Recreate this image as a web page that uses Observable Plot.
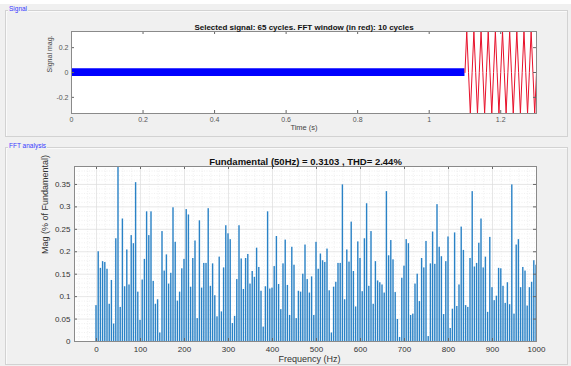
<!DOCTYPE html>
<html><head><meta charset="utf-8">
<script src="https://cdn.jsdelivr.net/npm/d3@7"></script>
<script src="https://cdn.jsdelivr.net/npm/@observablehq/plot@0.6"></script>
<style>
body{margin:0;background:#f0f0f0;font-family:Arial,"Liberation Sans",sans-serif;}
#root{position:relative;width:571px;height:366px;overflow:hidden;background:#f0f0f0;}
#strip{position:absolute;left:0;top:0;width:571px;height:4px;background:#fff;}
.panel{position:absolute;border:1px solid #d2d2d2;box-shadow:inset 1px 1px 0 #fafafa;}
.plabel{position:absolute;font-size:6.5px;color:#3a3aff;background:#f0f0f0;padding:0 1px;line-height:8px;}
.chart{position:absolute;left:0;}
</style></head>
<body>
<div id="root">
  <div id="strip"></div>
  <div class="panel" style="left:5px;top:10px;width:561px;height:125px;"></div>
  <div class="plabel" style="left:8px;top:5px;">Signal</div>
  <div class="panel" style="left:5px;top:147px;width:561px;height:216px;"></div>
  <div class="plabel" style="left:8px;top:142px;">FFT analysis</div>
  <div class="chart" id="c1" style="top:0px;"></div>
  <div class="chart" id="c2" style="top:146px;"></div>
</div>
<script>
// ---------- Signal panel data ----------
const timeTicks = [0, 0.2, 0.4, 0.6, 0.8, 1, 1.2];
const sigTicks = [-0.2, 0, 0.2];
// envelope of the (blue) noise-like signal before the FFT window
const bandTime = [0, 1.1];
const bandLow = [-0.032, -0.032];
const bandHigh = [0.03, 0.03];
// FFT window (red): 10 cycles of 50 Hz, sampled at quarter periods
const redTime = [1.1,1.105,1.11,1.115,1.12,1.125,1.13,1.135,1.14,1.145,1.15,1.155,1.16,1.165,1.17,1.175,1.18,1.185,1.19,1.195,1.2,1.205,1.21,1.215,1.22,1.225,1.23,1.235,1.24,1.245,1.25,1.255,1.26,1.265,1.27,1.275,1.28,1.285,1.29,1.295,1.3];
const redValue = [0,0.33,0,-0.33,0,0.33,0,-0.33,0,0.33,0,-0.33,0,0.33,0,-0.33,0,0.33,0,-0.33,0,0.33,0,-0.33,0,0.33,0,-0.33,0,0.33,0,-0.33,0,0.33,0,-0.33,0,0.33,0,-0.33,0];

// ---------- FFT panel data ----------
const freqStep = 5; // Hz between bars, starting at 0 Hz
const mags = [
0.080,0.200,0.163,0.178,0.176,0.161,0.083,0.136,0.039,0.229,
100,0.076,0.273,0.122,0.204,0.126,0.236,0.218,0.354,0.110,
0.047,0.137,0.183,0.289,0.236,0.289,0.134,0.083,0.093,0.019,
0.245,0.157,0.193,0.128,0.152,0.298,0.221,0.090,0.110,0.162,
0.183,0.294,0.282,0.121,0.185,0.224,0.051,0.269,0.119,0.174,
0.174,0.296,0.123,0.173,0.102,0.055,0.188,0.066,0.164,0.258,
0.240,0.227,0.040,0.056,0.138,0.258,0.184,0.116,0.185,0.194,
0.128,0.156,0.143,0.208,0.165,0.112,0.032,0.122,0.289,0.117,
0.119,0.167,0.234,0.127,0.071,0.173,0.226,0.125,0.058,0.210,
0.170,0.051,0.112,0.110,0.150,0.215,0.138,0.108,0.144,0.058,
0.221,0.161,0.195,0.180,0.176,0.206,0.113,0.019,0.121,0.132,
0.174,0.174,0.349,0.093,0.204,0.177,0.266,0.156,0.077,0.222,
0.185,0.111,0.229,0.307,0.123,0.245,0.083,0.178,0.135,0.131,
0.126,0.108,0.334,0.191,0.225,0.182,0.109,0.049,0.009,0.141,
0.168,0.227,0.218,0.058,0.061,0.128,0.150,0.089,0.185,0.164,
0.223,0.011,0.173,0.244,0.172,0.305,0.210,0.189,0.060,0.178,
0.233,0.029,0.072,0.242,0.078,0.126,0.255,0.203,0.080,0.076,
0.185,0.334,0.166,0.174,0.219,0.273,0.164,0.188,0.065,0.232,
0.120,0.091,0.101,0.163,0.162,0.123,0.085,0.131,0.082,0.349,
0.061,0.215,0.227,0.120,0.165,0.157,0.079,0.120,0.132,0.180,
0.170];
const freqTicks = [0,100,200,300,400,500,600,700,800,900,1000];
const magTicks = [0,0.05,0.1,0.15,0.2,0.25,0.3,0.35];
const freqMinor = [-40,-20,20,40,60,80,120,140,160,180,220,240,260,280,320,340,360,380,420,440,460,480,520,540,560,580,620,640,660,680,720,740,760,780,820,840,860,880,920,940,960,980];
const magMinor = [0.01,0.02,0.03,0.04,0.06,0.07,0.08,0.09,0.11,0.12,0.13,0.14,0.16,0.17,0.18,0.19,0.21,0.22,0.23,0.24,0.26,0.27,0.28,0.29,0.31,0.32,0.33,0.34,0.36,0.37,0.38];

const band = bandTime.map((t, i) => ({t, lo: bandLow[i], hi: bandHigh[i]}));
const red = redTime.map((t, i) => ({t, v: redValue[i]}));
const fft = mags.map((v, i) => ({f: i * freqStep, v}));

const font = "Arial, 'Liberation Sans', sans-serif";
const fmt = d => String(d);

// ---------- Signal plot ----------
{
  const W = 571, H = 140, mL = 71, mR = 35, mT = 31, mB = 27;
  const iH = H - mT - mB, iW = W - mL - mR;
  const p = Plot.plot({
    width: W, height: H,
    marginLeft: mL, marginRight: mR, marginTop: mT, marginBottom: mB,
    style: {background: "transparent", fontFamily: font, fontSize: "7px", color: "#555"},
    x: {domain: [0, 1.3], label: null},
    y: {domain: [-0.33, 0.33], label: null},
    marks: [
      Plot.frame({fill: "white", stroke: null}),
      Plot.areaY(band, {x: "t", y1: "lo", y2: "hi", fill: "#0000ff"}),
      Plot.line(red, {x: "t", y: "v", stroke: "#e8102a", strokeWidth: 1}),
      Plot.tickX(timeTicks, {x: d => d, insetTop: iH - 3, stroke: "#666"}),
      Plot.tickX(timeTicks, {x: d => d, insetBottom: iH - 3, stroke: "#666"}),
      Plot.tickY(sigTicks, {y: d => d, insetRight: iW - 3, stroke: "#666"}),
      Plot.tickY(sigTicks, {y: d => d, insetLeft: iW - 3, stroke: "#666"}),
      Plot.frame({stroke: "#8a8a8a"}),
      Plot.axisX({ticks: timeTicks, tickFormat: fmt, tickSize: 0, tickPadding: 4, fill: "#555"}),
      Plot.axisY({ticks: sigTicks, tickFormat: fmt, tickSize: 0, tickPadding: 3, fill: "#555"}),
      Plot.text(["Selected signal: 65 cycles. FFT window (in red): 10 cycles"], {text: d => d, frameAnchor: "top", dy: -7, fontWeight: "bold", fontSize: 8, fill: "#111"}),
      Plot.text(["Time (s)"], {text: d => d, frameAnchor: "bottom", dy: 16, fontSize: 7.5, fill: "#444"}),
      Plot.text(["Signal mag."], {text: d => d, frameAnchor: "left", dx: -22, rotate: -90, fontSize: 7, fill: "#444"})
    ]
  });
  document.getElementById("c1").appendChild(p);
}

// ---------- FFT plot ----------
{
  const W = 571, H = 220, mL = 74, mR = 35, mT = 20, mB = 25;
  const iH = H - mT - mB, iW = W - mL - mR;
  const p = Plot.plot({
    width: W, height: H,
    marginLeft: mL, marginRight: mR, marginTop: mT, marginBottom: mB,
    style: {background: "transparent", fontFamily: font, fontSize: "8px", color: "#333"},
    x: {domain: [-50, 1000], label: null},
    y: {domain: [0, 0.39], label: null},
    marks: [
      Plot.frame({fill: "white", stroke: null}),
      Plot.ruleX(freqMinor, {x: d => d, stroke: "#e6e6e6", strokeWidth: 0.6, strokeDasharray: "1,1.5"}),
      Plot.ruleY(magMinor, {y: d => d, stroke: "#e6e6e6", strokeWidth: 0.6, strokeDasharray: "1,1.5"}),
      Plot.ruleX(freqTicks, {x: d => d, stroke: "#dcdcdc", strokeWidth: 0.7}),
      Plot.ruleY(magTicks, {y: d => d, stroke: "#dcdcdc", strokeWidth: 0.7}),
      Plot.rectY(fft, {x1: d => d.f - 1.6, x2: d => d.f + 1.6, y: "v", fill: "#2a82c6", clip: true}),
      Plot.tickX(freqTicks, {x: d => d, insetTop: iH - 3, stroke: "#666"}),
      Plot.tickX(freqTicks, {x: d => d, insetBottom: iH - 3, stroke: "#666"}),
      Plot.tickY(magTicks, {y: d => d, insetRight: iW - 3, stroke: "#666"}),
      Plot.tickY(magTicks, {y: d => d, insetLeft: iW - 3, stroke: "#666"}),
      Plot.frame({stroke: "#8a8a8a"}),
      Plot.axisX({ticks: freqTicks, tickFormat: fmt, tickSize: 0, tickPadding: 5, fill: "#333"}),
      Plot.axisY({ticks: magTicks, tickFormat: fmt, tickSize: 0, tickPadding: 4, fill: "#333"}),
      Plot.text(["Fundamental (50Hz) = 0.3103 , THD= 2.44%"], {text: d => d, frameAnchor: "top", dy: -8, fontWeight: "bold", fontSize: 9.5, fill: "#111"}),
      Plot.text(["Frequency (Hz)"], {text: d => d, frameAnchor: "bottom", dy: 20, dx: 4, fontSize: 9, fill: "#333"}),
      Plot.text(["Mag (% of Fundamental)"], {text: d => d, frameAnchor: "left", dx: -29, rotate: -90, fontSize: 9, fill: "#333"})
    ]
  });
  document.getElementById("c2").appendChild(p);
}
</script>
</body></html>
